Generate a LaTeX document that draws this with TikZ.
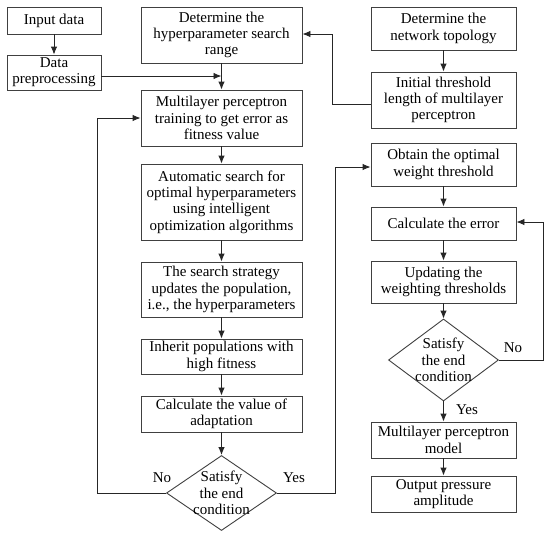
\documentclass[tikz,border=0pt]{standalone}
\usepackage{fontspec}
\setmainfont{Liberation Serif}
\usetikzlibrary{arrows.meta,shapes.geometric,calc}
\tikzset{
  box/.style={draw=black!75, line width=0.9pt, rectangle, inner sep=0pt, align=center,
    font=\fontsize{15}{16.3}\selectfont, text=black},
  dia/.style={draw=black!75, line width=0.9pt, diamond, inner sep=0pt, shape aspect=1},
  lbl/.style={font=\fontsize{15}{16.3}\selectfont, inner sep=0pt, align=center},
  arr/.style={draw=black!85, line width=0.9pt, -{Latex[length=8pt,width=6.5pt]}},
  ln/.style={draw=black!85, line width=0.9pt}
}
\begin{document}
\begin{tikzpicture}[x=1pt,y=-1pt]
\useasboundingbox (0,0) rectangle (550,539);
\fill[white] (0,0) rectangle (550,539);
% left column
\node[box, minimum width=94pt, minimum height=27pt] (in) at (54,20.5) {Input data};
\node[box, minimum width=94pt, minimum height=35pt] (pre) at (54,72.5) {Data\\preprocessing};
\node[box, minimum width=161pt, minimum height=56pt] (hyp) at (221.5,35) {Determine the\\hyperparameter search\\range};
\node[box, minimum width=161pt, minimum height=56pt] (mlp) at (221.5,118) {Multilayer perceptron\\training to get error as\\fitness value};
\node[box, minimum width=161pt, minimum height=76pt] (auto) at (221.5,202) {Automatic search for\\optimal hyperparameters\\using intelligent\\optimization algorithms};
\node[box, minimum width=161pt, minimum height=55pt] (ss) at (221.5,289.5) {The search strategy\\updates the population,\\i.e., the hyperparameters};
\node[box, minimum width=161pt, minimum height=35pt] (inh) at (221.5,356.5) {Inherit populations with\\high fitness};
\node[box, minimum width=161pt, minimum height=36pt] (calc) at (221.5,414) {Calculate the value of\\adaptation};
\node[dia, minimum width=110pt, minimum height=75pt] (d1) at (221.5,493) {};
\node[lbl] (d1t) at (221.5,493) {Satisfy\\the end\\condition};
% right column
\node[box, minimum width=145pt, minimum height=43pt] (top) at (443.5,28.5) {Determine the\\network topology};
\node[box, minimum width=145pt, minimum height=56pt] (init) at (443.5,100) {Initial threshold\\length of multilayer\\perceptron};
\node[box, minimum width=145pt, minimum height=43pt] (obt) at (443.5,164.5) {Obtain the optimal\\weight threshold};
\node[box, minimum width=145pt, minimum height=33pt] (err) at (443.5,223.5) {Calculate the error};
\node[box, minimum width=145pt, minimum height=42pt] (upd) at (443.5,282) {Updating the\\weighting thresholds};
\node[dia, minimum width=110pt, minimum height=82pt] (d2) at (443.5,360) {};
\node[lbl] (d2t) at (443.5,360) {Satisfy\\the end\\condition};
\node[box, minimum width=145pt, minimum height=36pt] (mlpm) at (443.5,440) {Multilayer perceptron\\model};
\node[box, minimum width=145pt, minimum height=36pt] (out) at (443.5,494) {Output pressure\\amplitude};
% labels
\node[lbl] (no1) at (162,478) {No};
\node[lbl] (yes1) at (294,478) {Yes};
\node[lbl] (no2) at (513,348) {No};
\node[lbl] (yes2) at (467,410) {Yes};
% helper coordinates
\coordinate (j1) at (221.5,76);
\coordinate (l1) at (97,493);
\coordinate (r1) at (335,493);
\coordinate (t1) at (332,104);
\coordinate (t2) at (332,34);
\coordinate (n2) at (543,360);
% connectors
\draw[arr] (in) -- (pre);
\draw[arr] (pre.east |- j1) -- (j1);
\draw[arr] (hyp) -- (mlp);
\draw[arr] (mlp) -- (auto);
\draw[arr] (auto) -- (ss);
\draw[arr] (ss) -- (inh);
\draw[arr] (inh) -- (calc);
\draw[arr] (calc) -- (d1.north);
\draw[arr] (d1.west) -- (l1) |- (mlp.west);
\draw[arr] (d1.east) -- (r1) |- ([yshift=-2.5pt]obt.west);
\draw[arr] (top) -- (init);
\draw[arr] ([yshift=-4pt]init.west) -- (t1) -- (t2) -- (hyp.east |- t2);
\draw[arr] (obt) -- (err);
\draw[arr] (err) -- (upd);
\draw[arr] (upd) -- (d2.north);
\draw[arr] (d2.east) -- (n2) |- ([yshift=1.5pt]err.east);
\draw[arr] (d2.south) -- (mlpm);
\draw[arr] (mlpm) -- (out);
\end{tikzpicture}
\end{document}
